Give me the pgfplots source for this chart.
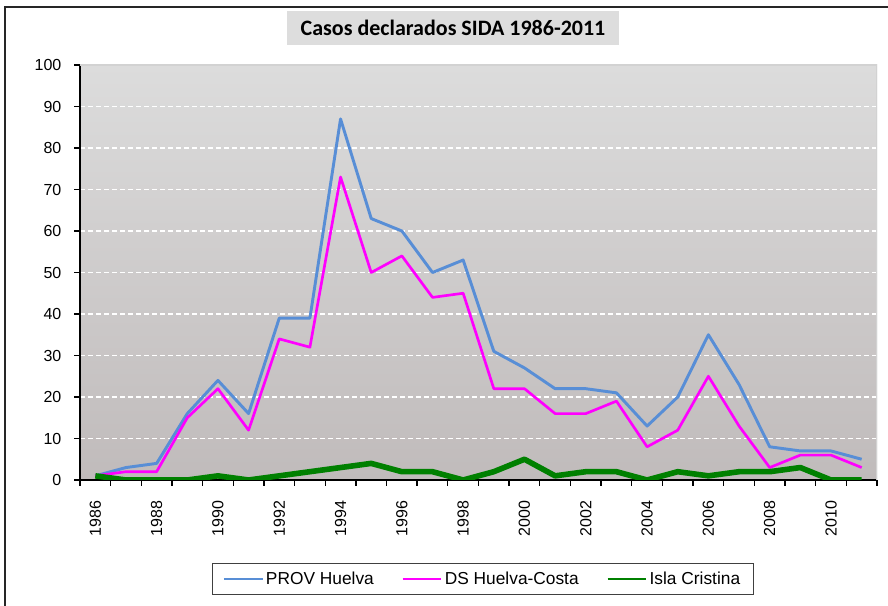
\documentclass[border=0pt]{standalone}
\usepackage{pgfplots}
\pgfplotsset{compat=1.18}
\usepackage{pgfplotstable}
\usepackage{fontspec}
\setmainfont{Liberation Sans}
\newfontfamily\calibri{Carlito}

\definecolor{provblue}{RGB}{88,142,214}
\definecolor{dsmag}{RGB}{255,0,255}
\definecolor{islagreen}{RGB}{0,128,0}
\definecolor{bgtop}{RGB}{220,220,220}
\definecolor{bgbot}{RGB}{192,187,187}
\definecolor{titlefill}{RGB}{221,221,221}

% casos declarados por año
\pgfplotstableread{
year prov ds isla
1986 1  1  1
1987 3  2  0
1988 4  2  0
1989 16 15 0
1990 24 22 1
1991 16 12 0
1992 39 34 1
1993 39 32 2
1994 87 73 3
1995 63 50 4
1996 60 54 2
1997 50 44 2
1998 53 45 0
1999 31 22 2
2000 27 22 5
2001 22 16 1
2002 22 16 2
2003 21 19 2
2004 13 8  0
2005 20 12 2
2006 35 25 1
2007 23 13 2
2008 8  3  2
2009 7  6  3
2010 7  6  0
2011 5  3  0
}\casos

\begin{document}
\begin{tikzpicture}
\path[use as bounding box] (-60pt,-94.5pt) rectangle (606pt,360pt);
\begin{axis}[
    scale only axis,
    width=597.75pt, height=311.25pt,
    xmin=1985.5, xmax=2011.5,
    ymin=0, ymax=100,
    axis x line*=bottom,
    axis y line*=left,
    axis line style={black, line width=1pt},
    axis background/.style={top color=bgtop, bottom color=bgbot},
    tick align=outside,
    major tick length=4.5pt,
    tick style={black, line width=1pt},
    ytick={0,10,...,100},
    ymajorgrids,
    grid style={white, dashed, line width=1pt, dash pattern=on 3.75pt off 2.25pt},
    xtick={1985.5,1986.5,...,2011.6},
    xticklabels={},
    extra x ticks={1986,1988,...,2010},
    extra x tick labels={1986,1988,1990,1992,1994,1996,1998,2000,2002,2004,2006,2008,2010},
    extra x tick style={major tick length=0pt, grid=none,
        xticklabel style={yshift=-12pt, rotate=90, anchor=east}},
    /pgf/number format/assume math mode=true,
    /pgf/number format/1000 sep={},
    tick label style={font=\fontsize{12}{14}\selectfont},
    yticklabel style={xshift=-6pt},
    title={Casos declarados SIDA 1986-2011},
    title style={at={(0.468,1.07)}, anchor=center, fill=titlefill,
        minimum width=249pt, minimum height=25.5pt, inner sep=0pt,
        font=\calibri\bfseries\fontsize{16.5}{18}\selectfont},
    legend columns=3,
    legend style={at={(0.5056,-0.2)}, anchor=north,
        draw=black!75, line width=1.1pt, fill=white,
        font=\fontsize{13}{17}\selectfont,
        inner xsep=8pt, inner ysep=4pt,
        /tikz/every even column/.append style={column sep=19pt}},
    legend image code/.code={\draw[#1, line width=1.2pt] (0pt,0pt) -- (29pt,0pt);},
]
\addplot[provblue, line width=2.2pt, line join=round] table[x=year, y=prov] {\casos};
\addplot[dsmag, line width=2pt, line join=round] table[x=year, y=ds] {\casos};
\addplot[islagreen, line width=4.2pt, line join=round] table[x=year, y=isla] {\casos};
\legend{PROV Huelva, DS Huelva-Costa, Isla Cristina}
\draw[gray!35, line width=1pt] (rel axis cs:0,1) -- (rel axis cs:1,1) -- (rel axis cs:1,0);
\end{axis}
\draw[black!85, line width=1.1pt] (-56.25pt,-120pt) -- (-56.25pt,354.75pt) -- (640pt,354.75pt);
\end{tikzpicture}
\end{document}
